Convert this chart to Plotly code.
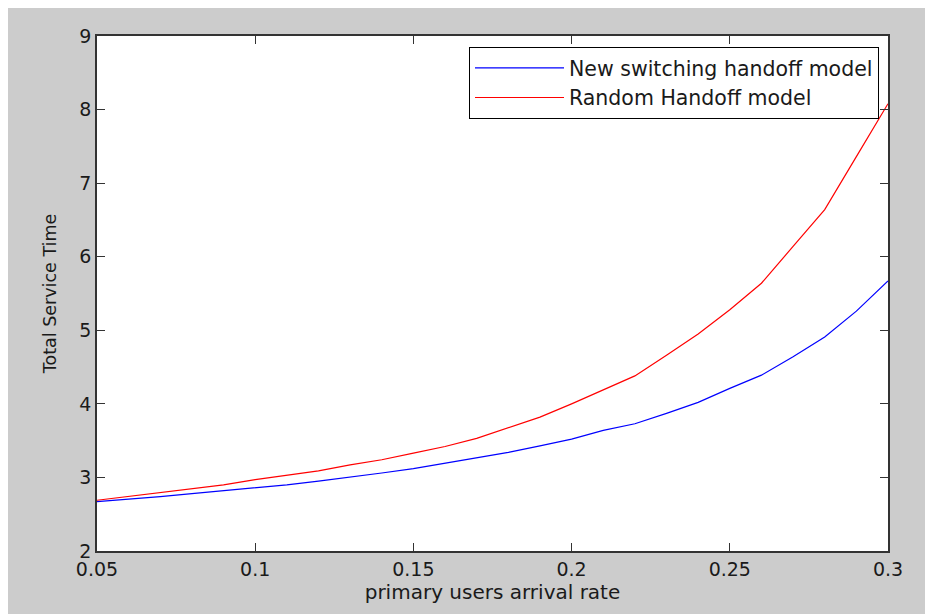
import plotly.graph_objects as go

arrival_rate = [0.05, 0.06, 0.07, 0.08, 0.09, 0.10, 0.11, 0.12, 0.13, 0.14,
                0.15, 0.16, 0.17, 0.18, 0.19, 0.20, 0.21, 0.22, 0.23, 0.24,
                0.25, 0.26, 0.27, 0.28, 0.29, 0.30]
new_switching = [2.67, 2.70, 2.74, 2.78, 2.82, 2.85, 2.90, 2.95, 3.00, 3.06,
                 3.12, 3.19, 3.26, 3.34, 3.43, 3.52, 3.64, 3.73, 3.87, 4.02,
                 4.21, 4.39, 4.64, 4.91, 5.26, 5.67]
random_handoff = [2.69, 2.74, 2.79, 2.84, 2.90, 2.97, 3.03, 3.09, 3.17, 3.24,
                  3.33, 3.42, 3.53, 3.67, 3.82, 4.00, 4.19, 4.38, 4.66, 4.95,
                  5.28, 5.64, 6.14, 6.64, 7.36, 8.08]
x_ticks = [0.05, 0.1, 0.15, 0.2, 0.25, 0.3]
x_tick_labels = ["0.05", "0.1", "0.15", "0.2", "0.25", "0.3"]
y_ticks = [2, 3, 4, 5, 6, 7, 8, 9]

# The page body has an 8px margin, so the figure starts at (8, 8).
OFF = 8
W, H = 933 - OFF, 614 - OFF
L, R, T, B = 97 - OFF, 45, 36 - OFF, 63
pw, ph = W - L - R, H - T - B

def px(xp):
    return (xp - OFF - L) / pw

def py(yp):
    return (H - B - (yp - OFF)) / ph

FONT = "DejaVu Sans, Liberation Sans, Arial, sans-serif"
TXT = "#1a1a1a"

fig = go.Figure()
fig.add_trace(go.Scatter(x=arrival_rate, y=new_switching, mode="lines",
                         name="New switching handoff model",
                         line=dict(color="#0000ff", width=1.2)))
fig.add_trace(go.Scatter(x=arrival_rate, y=random_handoff, mode="lines",
                         name="Random Handoff model",
                         line=dict(color="#ff0000", width=1.2)))

axis_common = dict(showgrid=False, zeroline=False, showline=True,
                   linecolor="#333333", linewidth=1.5, mirror="ticks",
                   ticks="inside", ticklen=8, tickwidth=1, tickcolor="#333333",
                   tickfont=dict(family=FONT, size=19, color=TXT))

fig.update_layout(
    width=W, height=H,
    margin=dict(l=L, r=R, t=T, b=B, pad=0),
    paper_bgcolor="#cccccc",
    plot_bgcolor="#ffffff",
    showlegend=True,
    legend=dict(x=px(879), xanchor="right", y=py(47), yanchor="top",
                bgcolor="#ffffff", bordercolor="#000000", borderwidth=1,
                font=dict(family=FONT, size=20.5, color=TXT),
                itemwidth=89, tracegroupgap=0),
    xaxis=dict(range=[0.05, 0.3], tickvals=x_ticks, ticktext=x_tick_labels,
               title=dict(text="primary users arrival rate", standoff=6,
                          font=dict(family=FONT, size=20, color=TXT)),
               **axis_common),
    yaxis=dict(range=[2, 9], tickvals=y_ticks,
               title=dict(text="Total Service Time", standoff=18,
                          font=dict(family=FONT, size=17.5, color=TXT)),
               **axis_common),
)

fig.write_html("out.html")
